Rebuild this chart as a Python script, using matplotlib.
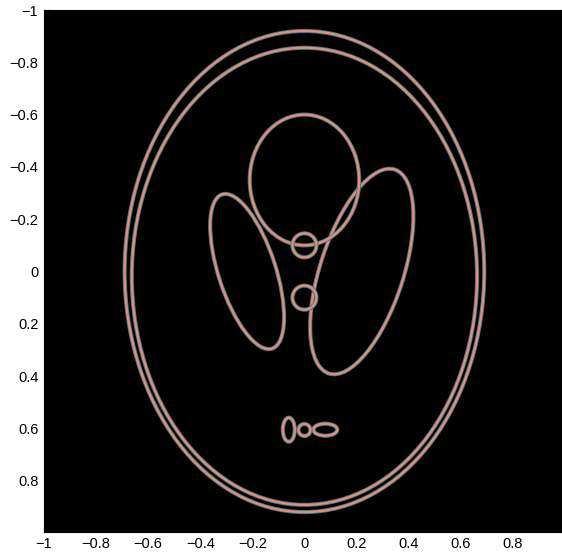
import matplotlib
matplotlib.use("Agg")
import matplotlib.pyplot as plt
from matplotlib.patches import Ellipse

# Shepp-Logan style ellipses, in displayed (x, y) coordinates
CX = [0.0, 0.0, -0.22, 0.22, 0.0, 0.0, 0.0, 0.08, 0.0, -0.06]
CY = [0.0, 0.0184, 0.0, 0.0, -0.35, -0.1, 0.1, 0.605, 0.606, 0.605]
SEMI_A = [0.69, 0.6624, 0.11, 0.16, 0.21, 0.046, 0.046, 0.046, 0.023, 0.023]
SEMI_B = [0.92, 0.874, 0.31, 0.41, 0.25, 0.046, 0.046, 0.023, 0.023, 0.046]
ANGLE = [0, 0, -18, 18, 0, 0, 0, 0, 0, 0]

TICKS = [-1, -0.8, -0.6, -0.4, -0.2, 0, 0.2, 0.4, 0.6, 0.8]

plt.rcParams["font.family"] = ["Liberation Sans", "DejaVu Sans"]

fig = plt.figure(figsize=(5.62, 5.57), dpi=100)
ax = fig.add_axes([0.078, 0.045, 0.92, 0.937])
ax.set_facecolor("black")

for x, y, a, b, ang in zip(CX, CY, SEMI_A, SEMI_B, ANGLE):
    # cyan fringe under the pink edge
    ax.add_patch(Ellipse((x, y), 2 * a, 2 * b, angle=ang, fill=False,
                         ec="#138a8a", lw=3.0))
    ax.add_patch(Ellipse((x, y), 2 * a, 2 * b, angle=ang, fill=False,
                         ec="#ff8078", lw=1.7))

ax.set_xlim(-1, 0.984)
ax.set_ylim(0.996, -1)
ax.set_xticks(TICKS)
ax.set_yticks(TICKS)
ax.set_xticklabels([f"{t:g}".replace("-", "\u2212") for t in TICKS])
ax.set_yticklabels([f"{t:g}".replace("-", "\u2212") for t in TICKS])
ax.tick_params(direction="in", color="black", labelsize=10.5, pad=4)
for s in ax.spines.values():
    s.set_color("black")

fig.savefig("out.png", dpi=100)
